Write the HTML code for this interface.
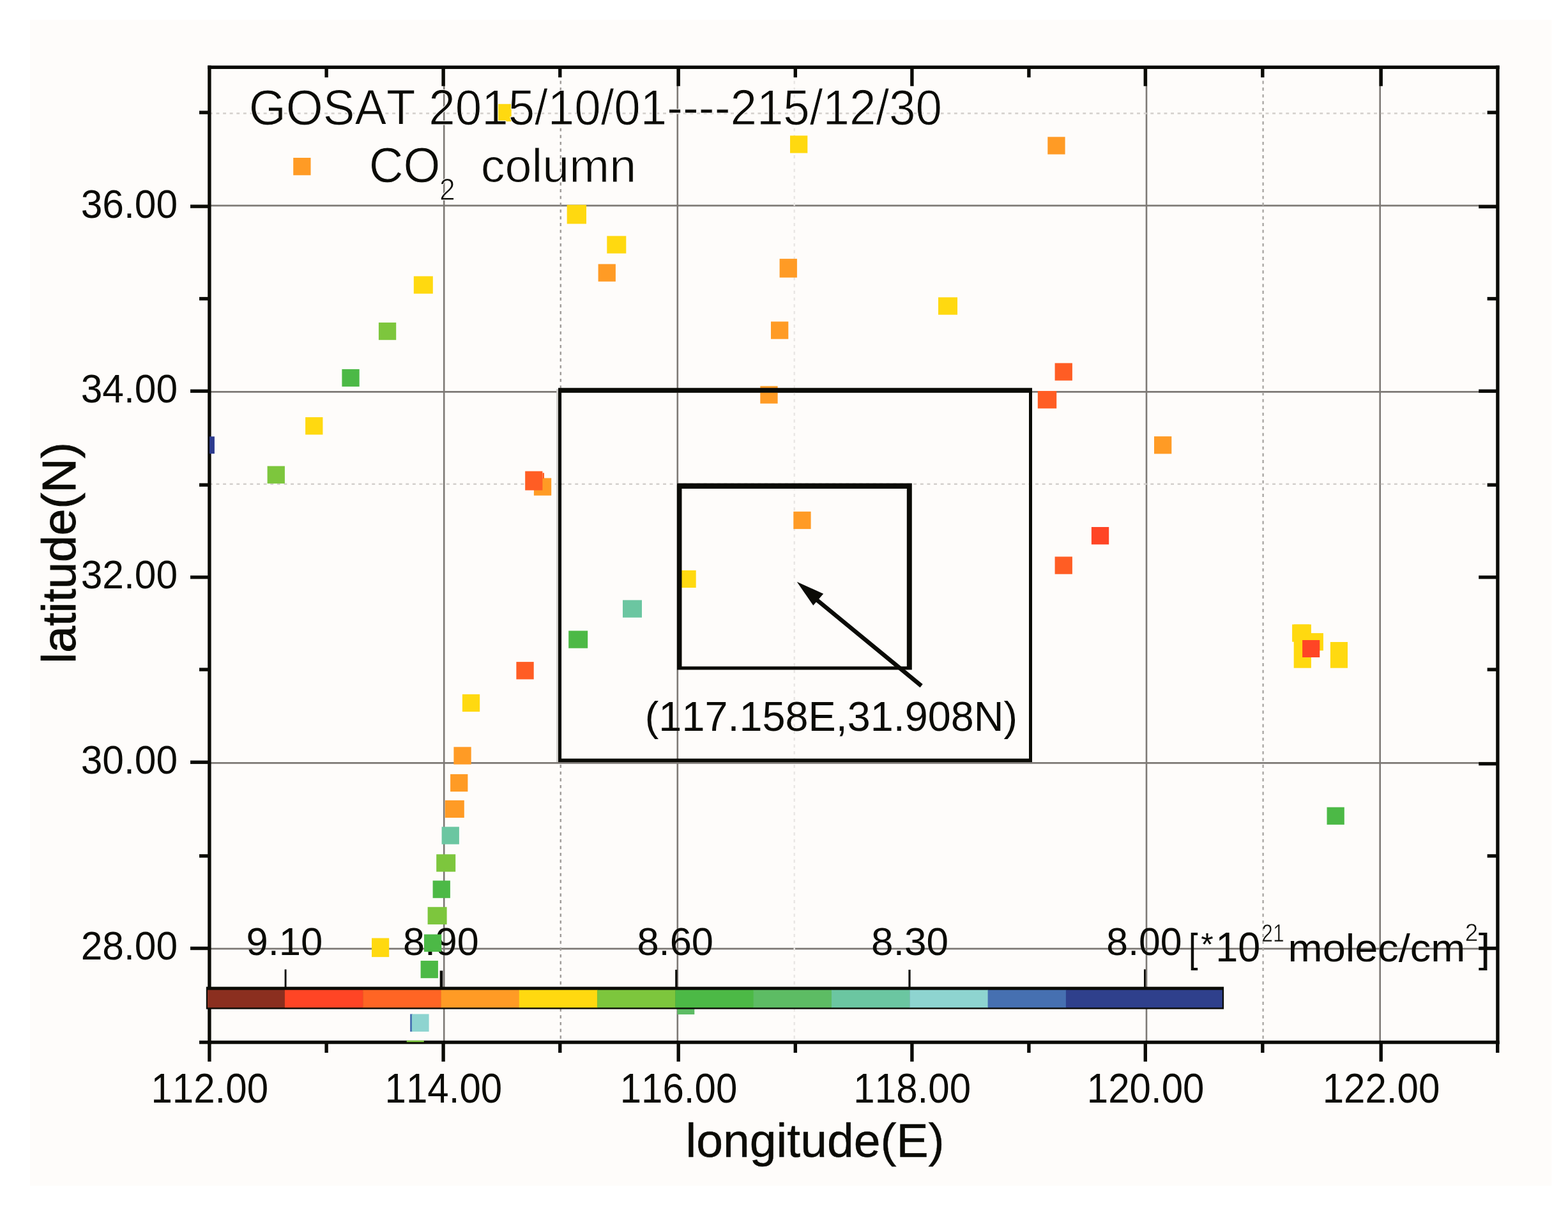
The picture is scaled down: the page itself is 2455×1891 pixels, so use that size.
<!DOCTYPE html>
<html lang="en"><head><meta charset="utf-8"><title>GOSAT CO2 column</title>
<style>html,body{margin:0;padding:0;background:#fff}body{width:2455px;height:1891px;overflow:hidden}svg{display:block}text{font-family:"Liberation Sans", sans-serif;fill:#0b0b06;font-kerning:none}</style>
</head><body>
<svg width="2455" height="1891" viewBox="0 0 2455 1891">
<rect x="46.9" y="30.9" width="2382.5" height="1825.3" fill="#fefcfa"/>
<g stroke="#7d7975" stroke-width="2.6" fill="none">
<line x1="695.2" y1="105.3" x2="695.2" y2="1631.6"/>
<line x1="1060.8" y1="105.3" x2="1060.8" y2="1631.6"/>
<line x1="1795.0" y1="105.3" x2="1795.0" y2="1631.6"/>
<line x1="2160.7" y1="105.3" x2="2160.7" y2="1631.6"/>
<line x1="327.9" y1="321.9" x2="2344.9" y2="321.9"/>
<line x1="327.9" y1="613.4" x2="2344.9" y2="613.4"/>
<line x1="327.9" y1="1194.4" x2="2344.9" y2="1194.4"/>
<line x1="327.9" y1="1485.1" x2="2344.9" y2="1485.1"/>
</g>
<g stroke-width="2.4" stroke-dasharray="4.9 5.7" fill="none">
<line x1="877.8" y1="105.3" x2="877.8" y2="1631.6" stroke="#a09c99"/>
<line x1="1243.7" y1="105.3" x2="1243.7" y2="1631.6" stroke="#e9e6e4"/>
<line x1="1977.6" y1="105.3" x2="1977.6" y2="1631.6" stroke="#aaa7a4"/>
<line x1="327.9" y1="177.5" x2="2344.9" y2="177.5" stroke="#d3cfcc"/>
<line x1="327.9" y1="757.8" x2="2344.9" y2="757.8" stroke="#d3cfcc"/>
</g>
<text transform="translate(385.53 1494.90) scale(0.9961 1)" font-size="61.80">9.10</text>
<text transform="translate(630.95 1494.90) scale(0.9883 1)" font-size="61.80">8.90</text>
<text transform="translate(997.43 1494.90) scale(0.9944 1)" font-size="61.80">8.60</text>
<text transform="translate(1364.11 1494.90) scale(1.0048 1)" font-size="61.80">8.30</text>
<text transform="translate(1732.37 1494.90) scale(0.9822 1)" font-size="61.80">8.00</text>
<g>
<rect x="459.2" y="247.0" width="27.3" height="27.3" fill="#ff9b25"/>
<rect x="1060.5" y="1561.0" width="26.8" height="27.0" fill="#5dbc64"/>
<rect x="1062.5" y="892.8" width="27.2" height="27.2" fill="#ffd910"/>
<rect x="773.4" y="162.8" width="27.3" height="27.3" fill="#ffd910"/>
<rect x="647.8" y="432.4" width="30.0" height="27.3" fill="#ffd910"/>
<rect x="592.9" y="504.9" width="27.3" height="27.3" fill="#7dc63d"/>
<rect x="535.4" y="577.9" width="27.3" height="27.3" fill="#4cb946"/>
<rect x="1237.0" y="212.3" width="27.3" height="27.3" fill="#ffd910"/>
<rect x="887.7" y="320.7" width="30.3" height="29.7" fill="#ffd910"/>
<rect x="950.3" y="369.4" width="30.0" height="27.3" fill="#ffd910"/>
<rect x="936.6" y="413.4" width="27.3" height="27.3" fill="#ff9b25"/>
<rect x="1220.6" y="405.1" width="27.3" height="29.4" fill="#ff9b25"/>
<rect x="1207.0" y="503.4" width="27.3" height="27.3" fill="#ff9b25"/>
<rect x="1469.0" y="465.4" width="30.0" height="27.3" fill="#ffd910"/>
<rect x="1190.3" y="604.4" width="27.3" height="27.3" fill="#ff9b25"/>
<rect x="1640.3" y="214.3" width="27.3" height="27.3" fill="#ff9b25"/>
<rect x="1651.6" y="568.4" width="27.3" height="27.3" fill="#ff5d24"/>
<rect x="1624.8" y="612.0" width="29.4" height="27.4" fill="#ff5d24"/>
<rect x="478.1" y="653.1" width="27.3" height="27.3" fill="#ffd910"/>
<rect x="418.6" y="729.6" width="27.3" height="27.3" fill="#7dc63d"/>
<rect x="723.9" y="1086.8" width="27.3" height="27.3" fill="#ffd910"/>
<rect x="710.4" y="1169.3" width="27.3" height="27.3" fill="#ff9b25"/>
<rect x="705.1" y="1211.9" width="27.3" height="27.3" fill="#ff9b25"/>
<rect x="696.8" y="1252.8" width="30.0" height="27.3" fill="#ff9b25"/>
<rect x="835.9" y="748.4" width="27.3" height="27.3" fill="#ff9b25"/>
<rect x="822.2" y="737.6" width="27.2" height="29.9" fill="#ff5d24"/>
<rect x="849.4" y="740.3" width="2.6" height="8.7" fill="#ff5d24"/>
<rect x="1242.3" y="800.8" width="27.3" height="27.3" fill="#ff9b25"/>
<rect x="975.0" y="939.4" width="30.0" height="27.3" fill="#6bc6a1"/>
<rect x="890.2" y="987.4" width="30.0" height="27.3" fill="#4cb946"/>
<rect x="808.4" y="1036.1" width="27.3" height="27.3" fill="#ff5d24"/>
<rect x="1807.0" y="683.1" width="27.3" height="27.3" fill="#ff9b25"/>
<rect x="1708.9" y="825.0" width="27.3" height="27.3" fill="#ff4525"/>
<rect x="1651.6" y="871.4" width="27.3" height="27.3" fill="#ff5d24"/>
<rect x="2023.1" y="977.5" width="27.3" height="27.2" fill="#ffd910"/>
<rect x="2025.7" y="977.5" width="27.2" height="68.2" fill="#ffd910"/>
<rect x="2044.6" y="991.1" width="27.3" height="27.3" fill="#ffd910"/>
<rect x="2082.9" y="1005.0" width="27.1" height="40.7" fill="#ffd910"/>
<rect x="2039.1" y="1002.0" width="27.2" height="27.0" fill="#ff4525"/>
<rect x="691.6" y="1294.3" width="27.3" height="27.3" fill="#6bc6a1"/>
<rect x="683.2" y="1337.3" width="30.0" height="27.3" fill="#7dc63d"/>
<rect x="677.6" y="1378.5" width="27.3" height="27.3" fill="#4cb946"/>
<rect x="669.6" y="1419.8" width="30.0" height="27.3" fill="#7dc63d"/>
<rect x="664.0" y="1462.6" width="27.3" height="27.3" fill="#4cb946"/>
<rect x="582.0" y="1468.5" width="27.2" height="29.6" fill="#ffd910"/>
<rect x="658.6" y="1503.9" width="27.3" height="27.3" fill="#4cb946"/>
<rect x="642.1" y="1587.4" width="3.9" height="27.5" fill="#4670b1"/>
<rect x="644.9" y="1587.4" width="26.7" height="27.5" fill="#8ed4d0"/>
<rect x="2077.5" y="1263.6" width="27.3" height="27.3" fill="#4cb946"/>
</g>
<rect x="871.2" y="609" width="2.8" height="584" fill="#d0cecb"/>
<path fill="#0b0b06" fill-rule="evenodd" d="M874.0 607.2H1616.0V1193.0H874.0ZM879.1 614.8H1611.0V1187.5H879.1Z"/>
<path fill="#0b0b06" fill-rule="evenodd" d="M1060.0 756.6H1427.8V1048.6H1060.0ZM1067.5 765.0H1419.8V1043.2H1067.5Z"/>
<line x1="1442.6" y1="1073.6" x2="1277" y2="937.5" stroke="#0b0b06" stroke-width="6.6"/>
<polygon points="1247.7,910.7 1289.2,929.4 1273.3,947.8" fill="#0b0b06"/>
<g fill="#0b0b06">
<rect x="325.2" y="102.6" width="2022.4" height="5.4"/>
<rect x="325.2" y="1628.9" width="2022.4" height="5.4"/>
<rect x="325.2" y="102.6" width="5.4" height="1531.7"/>
<rect x="2342.2" y="102.6" width="5.4" height="1531.7"/>
<rect x="325.2" y="1631.6" width="5.4" height="30.2"/>
<rect x="508.4" y="1631.6" width="5.4" height="16.4"/>
<rect x="508.4" y="105.3" width="5.4" height="15.9"/>
<rect x="691.4" y="1631.6" width="5.4" height="30.2"/>
<rect x="691.4" y="105.3" width="5.4" height="29.5"/>
<rect x="874.1" y="1631.6" width="5.4" height="16.4"/>
<rect x="874.1" y="105.3" width="5.4" height="15.9"/>
<rect x="1059.5" y="1631.6" width="5.4" height="30.2"/>
<rect x="1059.5" y="105.3" width="5.4" height="29.5"/>
<rect x="1242.6" y="1631.6" width="5.4" height="16.4"/>
<rect x="1242.6" y="105.3" width="5.4" height="15.9"/>
<rect x="1425.2" y="1631.6" width="5.4" height="30.2"/>
<rect x="1425.2" y="105.3" width="5.4" height="29.5"/>
<rect x="1608.2" y="1631.6" width="5.4" height="16.4"/>
<rect x="1608.2" y="105.3" width="5.4" height="15.9"/>
<rect x="1790.6" y="1631.6" width="5.4" height="30.2"/>
<rect x="1790.6" y="105.3" width="5.4" height="29.5"/>
<rect x="1974.1" y="1631.6" width="5.4" height="16.4"/>
<rect x="1974.1" y="105.3" width="5.4" height="15.9"/>
<rect x="2159.5" y="1631.6" width="5.4" height="30.2"/>
<rect x="2159.5" y="105.3" width="5.4" height="29.5"/>
<rect x="2342.0" y="1631.6" width="5.4" height="16.4"/>
<rect x="312.0" y="173.4" width="15.9" height="5.4"/>
<rect x="2328.6" y="173.4" width="16.3" height="5.4"/>
<rect x="298.0" y="320.4" width="29.9" height="5.4"/>
<rect x="2315.2" y="320.8" width="29.7" height="5.4"/>
<rect x="312.0" y="464.9" width="15.9" height="5.4"/>
<rect x="2328.6" y="464.9" width="16.3" height="5.4"/>
<rect x="298.0" y="609.5" width="29.9" height="5.4"/>
<rect x="2315.2" y="609.5" width="29.7" height="5.4"/>
<rect x="312.0" y="756.4" width="15.9" height="5.4"/>
<rect x="2328.6" y="756.4" width="16.3" height="5.4"/>
<rect x="298.0" y="900.9" width="29.9" height="5.4"/>
<rect x="2315.2" y="900.9" width="29.7" height="5.4"/>
<rect x="312.0" y="1045.4" width="15.9" height="5.4"/>
<rect x="2328.6" y="1045.4" width="16.3" height="5.4"/>
<rect x="298.0" y="1190.5" width="29.9" height="5.4"/>
<rect x="2315.2" y="1192.9" width="29.7" height="5.4"/>
<rect x="312.0" y="1337.2" width="15.9" height="5.4"/>
<rect x="2328.6" y="1337.2" width="16.3" height="5.4"/>
<rect x="298.0" y="1481.8" width="29.9" height="5.4"/>
<rect x="2315.2" y="1481.8" width="29.7" height="5.4"/>
<rect x="312.0" y="1628.9" width="15.9" height="5.4"/>
</g>
<g>
<rect x="445.6" y="1517.5" width="2.9" height="28.2" fill="#0b0b06"/>
<rect x="688.7" y="1519.5" width="4.6" height="26.2" fill="#0b0b06"/>
<rect x="1057.2" y="1518.0" width="3.2" height="27.7" fill="#0b0b06"/>
<rect x="1422.4" y="1518.0" width="3.2" height="27.7" fill="#0b0b06"/>
<rect x="1791.0" y="1517.4" width="2.8" height="28.3" fill="#0b0b06"/>
<rect x="322.8" y="1544.7" width="1593.3" height="35.0" fill="#0b0b06"/>
<rect x="325.0" y="1549.7" width="121.3" height="27.6" fill="#8b2f1f"/>
<rect x="445.9" y="1549.7" width="122.7" height="27.6" fill="#ff4525"/>
<rect x="568.2" y="1549.7" width="122.7" height="27.6" fill="#ff6524"/>
<rect x="690.5" y="1549.7" width="122.7" height="27.6" fill="#ff9b25"/>
<rect x="812.8" y="1549.7" width="122.7" height="27.6" fill="#ffd910"/>
<rect x="935.1" y="1549.7" width="122.7" height="27.6" fill="#7dc63d"/>
<rect x="1057.4" y="1549.7" width="122.7" height="27.6" fill="#4cb946"/>
<rect x="1179.7" y="1549.7" width="122.7" height="27.6" fill="#5dbc64"/>
<rect x="1302.0" y="1549.7" width="122.7" height="27.6" fill="#6bc6a1"/>
<rect x="1424.3" y="1549.7" width="122.7" height="27.6" fill="#8ed4d0"/>
<rect x="1546.6" y="1549.7" width="122.7" height="27.6" fill="#4670b1"/>
<rect x="1668.9" y="1549.7" width="244.9" height="27.6" fill="#2f408c"/>
</g>
<rect x="328.0" y="683.3" width="7.9" height="26.9" fill="#2d3b8e"/>
<rect x="636.7" y="1628.7" width="27.1" height="2.6" fill="#7dc63d"/>
<text transform="translate(389.77 194.80) scale(0.9616 1)" font-size="77.50" stroke="#fefcfa" stroke-width="1" stroke-linejoin="round">GOSAT 2015/10/01----215/12/30</text>
<text transform="translate(577.77 284.60) scale(0.9638 1)" font-size="77.30" stroke="#fefcfa" stroke-width="1" stroke-linejoin="round">CO</text>
<text transform="translate(688.08 312.80) scale(0.9288 1)" font-size="47.80" stroke="#fefcfa" stroke-width="1" stroke-linejoin="round">2</text>
<text transform="translate(752.80 284.60) scale(1.0139 1)" font-size="74.50" stroke="#fefcfa" stroke-width="1" stroke-linejoin="round">column</text>
<text transform="translate(126.71 1502.30) scale(0.9480 1)" font-size="63.80">28.00</text>
<text transform="translate(126.71 1211.00) scale(0.9480 1)" font-size="63.80">30.00</text>
<text transform="translate(126.71 921.40) scale(0.9480 1)" font-size="63.80">32.00</text>
<text transform="translate(126.71 630.00) scale(0.9480 1)" font-size="63.80">34.00</text>
<text transform="translate(126.71 340.90) scale(0.9480 1)" font-size="63.80">36.00</text>
<text transform="translate(236.40 1726.00) scale(0.9356 1)" font-size="64.20">112.00</text>
<text transform="translate(602.55 1726.00) scale(0.9356 1)" font-size="64.20">114.00</text>
<text transform="translate(970.65 1726.00) scale(0.9356 1)" font-size="64.20">116.00</text>
<text transform="translate(1336.35 1726.00) scale(0.9356 1)" font-size="64.20">118.00</text>
<text transform="translate(1701.75 1726.00) scale(0.9356 1)" font-size="64.20">120.00</text>
<text transform="translate(2070.65 1726.00) scale(0.9356 1)" font-size="64.20">122.00</text>
<text transform="translate(1009.81 1143.90) scale(0.9902 1)" font-size="65.40">(117.158E,31.908N)</text>
<text transform="translate(1073.62 1811.30) scale(1.0016 1)" font-size="75.00" stroke="#0b0b06" stroke-width="0.5">longitude(E)</text>
<text transform="translate(118.0 1038.48) rotate(-90) scale(1.0023 1)" font-size="74.90" stroke="#0b0b06" stroke-width="0.9">latitude(N)</text>
<text transform="translate(1861.12 1506.30) scale(0.8281 1)" font-size="63.40">[</text>
<text transform="translate(1880.2 1496.3)" font-size="50">*</text>
<text transform="translate(1903.28 1505.10) scale(0.9707 1)" font-size="64.90">10</text>
<text transform="translate(1975.31 1473.50) scale(0.8197 1)" font-size="38.70" stroke="#fefcfa" stroke-width="0.6">21</text>
<text transform="translate(2016.58 1505.10) scale(1.0501 1)" font-size="61.80">molec/cm</text>
<text transform="translate(2293.85 1473.00) scale(0.9717 1)" font-size="38.00" stroke="#fefcfa" stroke-width="0.6">2</text>
<text transform="translate(2314.84 1506.30) scale(1.0434 1)" font-size="63.40">]</text>
</svg>
</body></html>
